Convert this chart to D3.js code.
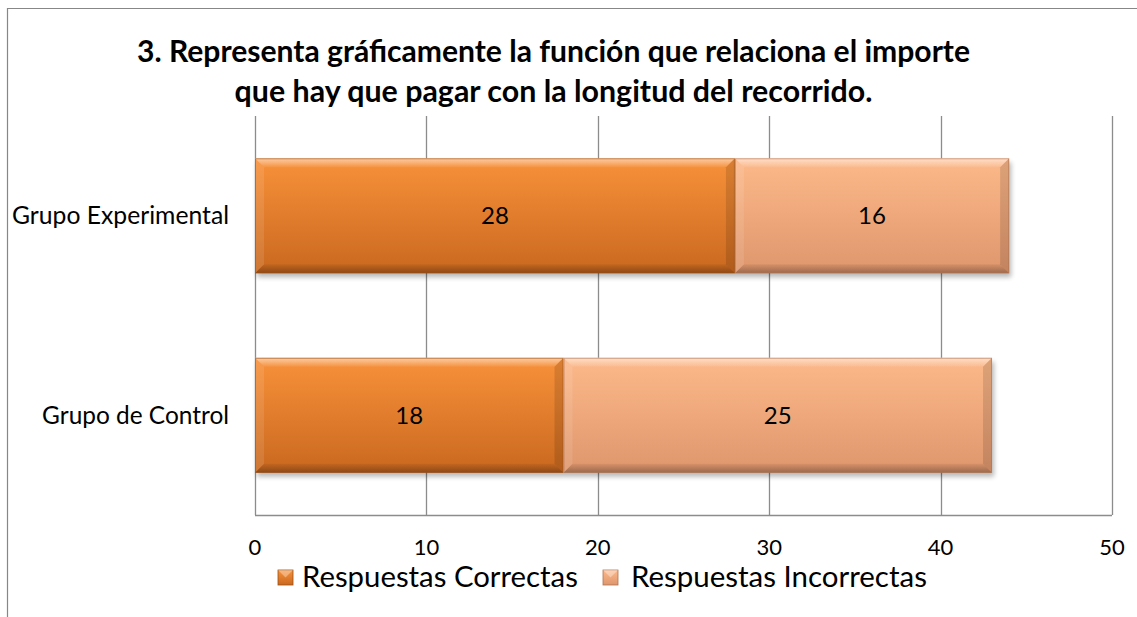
<!DOCTYPE html>
<html>
<head>
<meta charset="utf-8">
<script src="https://cdn.jsdelivr.net/npm/d3@7/dist/d3.min.js"></script>
<style>
  html, body { margin: 0; padding: 0; background: #ffffff; }
  svg { display: block; }
  text { font-family: Lato, "Open Sans", "Noto Sans", sans-serif; fill: #000; }
</style>
</head>
<body>
<svg id="chart" width="1137" height="617"></svg>
<script>
// ---- data ----
const categories = ["Grupo Experimental", "Grupo de Control"];
const correctas = [28, 18];
const incorrectas = [16, 25];
const seriesNames = ["Respuestas Correctas", "Respuestas Incorrectas"];
const tickValues = [0, 10, 20, 30, 40, 50];
const titleLines = [
  "3. Representa gráficamente la función que relaciona el importe",
  "que hay que pagar con la longitud del recorrido."
];

// ---- layout ----
const W = 1137, H = 617;
const plot = { left: 255, right: 1112, top: 116, bottom: 515 };
const palette = [
  { top: "#f8913a", bottom: "#c9681f", edge: "#9c5016" },
  { top: "#fdb98a", bottom: "#de966c", edge: "#b07454" }
];

const svg = d3.select("#chart");
const defs = svg.append("defs");

// Scale a text element's font size so that it spans the given width
function fitSize(sel, target) {
  sel.each(function () {
    const t = d3.select(this);
    const w = this.getComputedTextLength();
    const fs = parseFloat(t.attr("font-size"));
    if (w > 0) t.attr("font-size", (fs * target / w).toFixed(2));
  });
}

// Outer chart frame (right and bottom run past the visible area)
svg.append("path")
  .attr("d", `M7.5,${H + 2} V8.5 H${W + 2}`)
  .attr("fill", "none").attr("stroke", "#878787").attr("stroke-width", 1.2);

// ---- scales ----
const x = d3.scaleLinear().domain([0, 50]).range([plot.left, plot.right]);
const y = d3.scaleBand().domain(categories)
  .range([plot.top, plot.bottom])
  .paddingInner(0.424).paddingOuter(0.212);

// ---- gridlines ----
svg.append("g").selectAll("line")
  .data(tickValues)
  .join("line")
  .attr("x1", d => Math.round(x(d)) + 0.5).attr("x2", d => Math.round(x(d)) + 0.5)
  .attr("y1", plot.top).attr("y2", plot.bottom)
  .attr("stroke", "#8c8c8c").attr("stroke-width", 1.3);

// value axis line along the bottom
svg.append("line")
  .attr("x1", x(0)).attr("x2", x(50))
  .attr("y1", plot.bottom + 0.5).attr("y2", plot.bottom + 0.5)
  .attr("stroke", "#8c8c8c").attr("stroke-width", 1.3);

// ---- gradients and filters ----
palette.forEach((p, i) => {
  const g = defs.append("linearGradient").attr("id", "fill" + i)
    .attr("x1", 0).attr("y1", 0).attr("x2", 0).attr("y2", 1);
  g.append("stop").attr("offset", "0%").attr("stop-color", p.top);
  g.append("stop").attr("offset", "100%").attr("stop-color", p.bottom);
});
const hi = defs.append("linearGradient").attr("id", "bevelTop")
  .attr("x1", 0).attr("y1", 0).attr("x2", 0).attr("y2", 1);
hi.append("stop").attr("offset", "0%").attr("stop-color", "#fff").attr("stop-opacity", 0.55);
hi.append("stop").attr("offset", "100%").attr("stop-color", "#fff").attr("stop-opacity", 0.05);
const lo = defs.append("linearGradient").attr("id", "bevelBottom")
  .attr("x1", 0).attr("y1", 0).attr("x2", 0).attr("y2", 1);
lo.append("stop").attr("offset", "0%").attr("stop-color", "#000").attr("stop-opacity", 0.05);
lo.append("stop").attr("offset", "100%").attr("stop-color", "#000").attr("stop-opacity", 0.3);
const shadow = defs.append("filter").attr("id", "shadow")
  .attr("x", "-5%").attr("y", "-10%").attr("width", "110%").attr("height", "130%");
shadow.append("feGaussianBlur").attr("stdDeviation", 2.5);

// ---- stacked bars ----
const rows = categories.map((c, i) => ({ cat: c, correctas: correctas[i], incorrectas: incorrectas[i] }));
const stack = d3.stack().keys(["correctas", "incorrectas"])(rows);

const bv = 9; // bevel width
const barsG = svg.append("g");

// soft shadow under each full bar
barsG.selectAll("rect.shadow")
  .data(rows)
  .join("rect")
  .attr("class", "shadow")
  .attr("x", d => x(0) + 2)
  .attr("y", d => y(d.cat) + 4)
  .attr("width", d => x(d.correctas + d.incorrectas) - x(0))
  .attr("height", y.bandwidth())
  .attr("fill", "#000").attr("opacity", 0.28)
  .attr("filter", "url(#shadow)");

stack.forEach((layer, si) => {
  const p = palette[si];
  const g = barsG.append("g");
  g.selectAll("g.seg")
    .data(layer)
    .join("g").attr("class", "seg")
    .each(function (d) {
      const s = d3.select(this);
      const x0 = x(d[0]), x1 = x(d[1]);
      const y0 = y(d.data.cat), y1 = y0 + y.bandwidth();
      s.append("rect")
        .attr("x", x0).attr("y", y0).attr("width", x1 - x0).attr("height", y1 - y0)
        .attr("fill", `url(#fill${si})`);
      // bevel facets
      s.append("path")
        .attr("d", `M${x0},${y0} L${x1},${y0} L${x1 - bv},${y0 + bv} L${x0 + bv},${y0 + bv} Z`)
        .attr("fill", "url(#bevelTop)");
      s.append("path")
        .attr("d", `M${x0},${y1} L${x1},${y1} L${x1 - bv},${y1 - bv} L${x0 + bv},${y1 - bv} Z`)
        .attr("fill", "url(#bevelBottom)");
      s.append("path")
        .attr("d", `M${x0},${y0} L${x0 + bv},${y0 + bv} L${x0 + bv},${y1 - bv} L${x0},${y1} Z`)
        .attr("fill", "#fff").attr("opacity", 0.1);
      s.append("path")
        .attr("d", `M${x1},${y0} L${x1 - bv},${y0 + bv} L${x1 - bv},${y1 - bv} L${x1},${y1} Z`)
        .attr("fill", "#000").attr("opacity", 0.12);
      s.append("rect")
        .attr("x", x0 + 0.5).attr("y", y0 + 0.5).attr("width", x1 - x0 - 1).attr("height", y1 - y0 - 1)
        .attr("fill", "none").attr("stroke", p.edge).attr("stroke-opacity", 0.6).attr("stroke-width", 1);
      // value label
      s.append("text")
        .attr("x", (x0 + x1) / 2).attr("y", (y0 + y1) / 2 + 8.5)
        .attr("text-anchor", "middle").attr("font-size", 24)
        .text(d[1] - d[0]);
    });
});

// ---- category labels ----
const catWidths = [217, 187];
svg.append("g").selectAll("text")
  .data(categories)
  .join("text")
  .attr("x", 229)
  .attr("y", d => y(d) + y.bandwidth() / 2 + 8.5)
  .attr("text-anchor", "end")
  .attr("font-size", 24)
  .text(d => d)
  .each(function (d, i) { d3.select(this).call(fitSize, catWidths[i]); });

// ---- value axis tick labels ----
svg.append("g").selectAll("text")
  .data(tickValues)
  .join("text")
  .attr("x", d => x(d))
  .attr("y", 555)
  .attr("text-anchor", "middle")
  .attr("font-size", 22)
  .text(d => d);

// ---- title ----
const titleG = svg.append("g");
const titleTargets = [833, 638];
titleLines.forEach((t, i) => {
  titleG.append("text")
    .attr("x", 553.5).attr("y", i === 0 ? 62 : 102)
    .attr("text-anchor", "middle")
    .attr("font-size", 27).attr("font-weight", "bold")
    .text(t)
    .call(fitSize, titleTargets[i]);
});

// ---- legend ----
const legendItems = [
  { name: seriesNames[0], mx: 278, tx: 302, tw: 276 },
  { name: seriesNames[1], mx: 603, tx: 631, tw: 296 }
];
const lg = svg.append("g");
legendItems.forEach((it, i) => {
  const p = palette[i];
  const s = 15, my = 570;
  lg.append("rect").attr("x", it.mx).attr("y", my).attr("width", s).attr("height", s)
    .attr("fill", `url(#fill${i})`).attr("stroke", p.edge).attr("stroke-width", 0.8);
  lg.append("path")
    .attr("d", `M${it.mx},${my} L${it.mx + s},${my} L${it.mx + s / 2},${my + s / 2} Z`)
    .attr("fill", "#fff").attr("opacity", 0.35);
  lg.append("text")
    .attr("x", it.tx).attr("y", 586.5)
    .attr("font-size", 24)
    .text(it.name)
    .call(fitSize, it.tw);
});
</script>
</body>
</html>
